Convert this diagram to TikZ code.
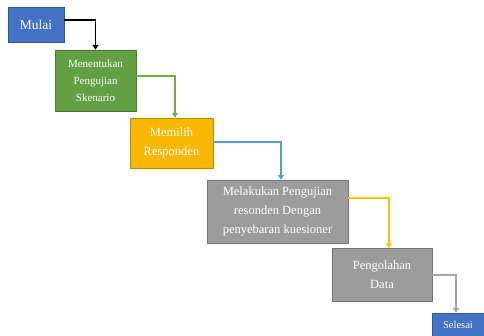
\documentclass[tikz,border=0pt]{standalone}
\usepackage{fontspec}
\setmainfont{Liberation Serif}
\usetikzlibrary{arrows.meta}

\definecolor{mblue}{HTML}{4472C4}
\definecolor{mgreen}{HTML}{62A043}
\definecolor{morange}{HTML}{F8B800}
\definecolor{mgray}{HTML}{9C9C9C}
\definecolor{lgreen}{HTML}{70AD47}
\definecolor{lblue}{HTML}{5B9BD5}
\definecolor{lyellow}{HTML}{FFC000}
\definecolor{lgray}{HTML}{A5A5A5}

\tikzset{
  box/.style={rectangle, draw=#1!75!black, fill=#1, text=white, align=center,
    inner sep=1pt, font=\fontsize{12.5}{19}\selectfont},
  flow/.style={draw=#1, line width=1.4pt, -{Triangle[width=6pt,length=5pt]}},
}

\begin{document}
\begin{tikzpicture}[x=1pt, y=-1pt]
    \useasboundingbox (0,0) rectangle (484,336);

    \node[box=mblue, minimum width=56pt, minimum height=35pt,
          font=\fontsize{13.5}{16}\selectfont] (mulai) at (36,24.5) {Mulai};
    \node[box=mgreen, minimum width=81pt, minimum height=61pt,
          font=\fontsize{11}{17}\selectfont] (skenario) at (95.5,80.5)
          {Menentukan\\Pengujian\\Skenario};
    \node[box=morange, minimum width=83pt, minimum height=50pt] (responden) at (171.5,143)
          {Memilih\\Responden};
    \node[box=mgray, minimum width=141pt, minimum height=63pt] (kuesioner) at (277.5,211.5)
          {Melakukan Pengujian\\resonden Dengan\\penyebaran kuesioner};
    \node[box=mgray, minimum width=100pt, minimum height=53pt] (olah) at (382,275)
          {Pengolahan\\Data};
    \node[box=mblue, minimum width=52pt, minimum height=24pt,
          font=\fontsize{10.5}{12}\selectfont] (selesai) at (458,325) {Selesai};

    % connectors
    \draw[flow=black] ([yshift=4.5pt]mulai.east) -| (skenario.north);
    \draw[flow=lgreen] ([yshift=4.5pt]skenario.east) -| ([xshift=3.5pt]responden.north);
    \draw[flow=lblue] ([yshift=1pt]responden.east) -| ([xshift=3.5pt]kuesioner.north);
    \draw[flow=lyellow] ([yshift=13.5pt]kuesioner.east) -| ([xshift=7pt]olah.north);
    \draw[flow=lgray] (olah.east) -| ([xshift=-2pt]selesai.north);
\end{tikzpicture}
\end{document}
